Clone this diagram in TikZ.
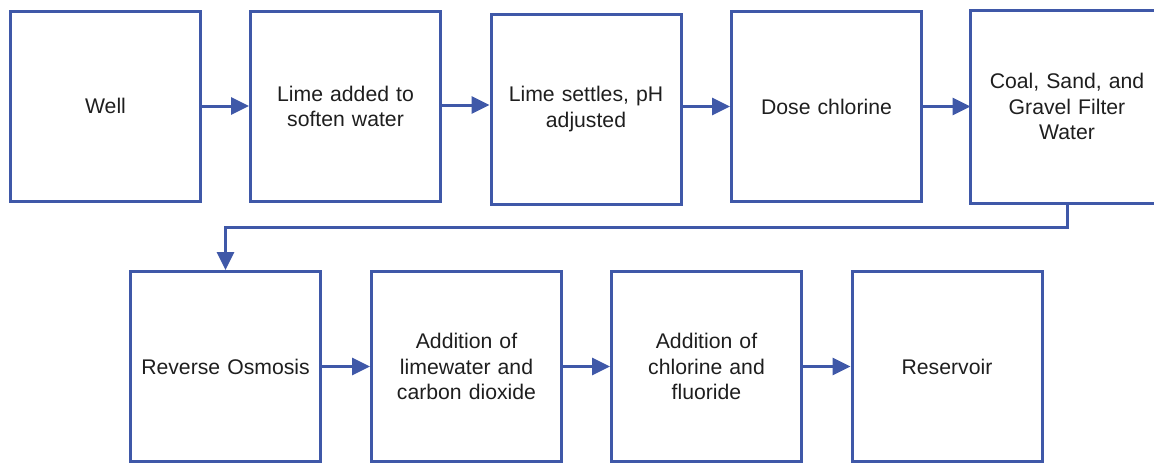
\documentclass[tikz,border=0pt]{standalone}
\usepackage{fontspec}
\setmainfont{Liberation Sans}
\usetikzlibrary{arrows.meta}
\definecolor{boxblue}{RGB}{63,88,168}
\definecolor{txt}{RGB}{30,30,30}
\begin{document}
\begin{tikzpicture}[x=1pt,y=-1pt,
  stepbox/.style={draw=boxblue, line width=3pt, minimum width=190pt, minimum height=190pt,
    inner sep=0pt, text width=175pt, align=center, text=txt,
    font=\fontsize{21.2}{25.5}\selectfont},
  arr/.style={draw=boxblue, line width=3pt, -{Triangle[length=18pt,width=17pt]}}]
\useasboundingbox (0,0) rectangle (1154,464);
\clip (0,0) rectangle (1154,464);
\node[stepbox] (b1) at (105.5,106) {Well};
\node[stepbox] (b2) at (345.5,106.5) {Lime added to\\soften water};
\node[stepbox] (b3) at (586,109) {Lime settles, pH\\adjusted};
\node[stepbox] (b4) at (826.5,106.5) {Dose chlorine};
\node[stepbox, draw=none] (b5) at (1067,106.5) {Coal, Sand, and\\Gravel Filter\\Water};
\draw[boxblue, line width=3pt] ([xshift=30pt]b5.north east) -- (b5.north west) -- (b5.south west) -- ([xshift=30pt]b5.south east);
\node[stepbox] (b6) at (225.5,366.5) {Reverse Osmosis};
\node[stepbox] (b7) at (466.5,366.5) {Addition of\\limewater and\\carbon dioxide};
\node[stepbox] (b8) at (706.5,366.5) {Addition of\\chlorine and\\fluoride};
\node[stepbox] (b9) at (947,366.5) {Reservoir};
\draw[arr] (b1.east) -- (b1.east -| b2.west);
\draw[arr] ([yshift=1.5pt]b2.east) -- ([yshift=1.5pt]b2.east -| b3.west);
\draw[arr] (b3.east |- b4.east) -- (b4.west);
\draw[arr] (b4.east) -- (b4.east -| b5.west);
\coordinate (k) at (0,227);
\draw[arr] (b5.south) -- (b5.south |- k) -- (b6.north |- k) -- (b6.north);
\draw[arr] (b6.east) -- (b6.east -| b7.west);
\draw[arr] (b7.east) -- (b7.east -| b8.west);
\draw[arr] (b8.east) -- (b8.east -| b9.west);
\end{tikzpicture}
\end{document}
